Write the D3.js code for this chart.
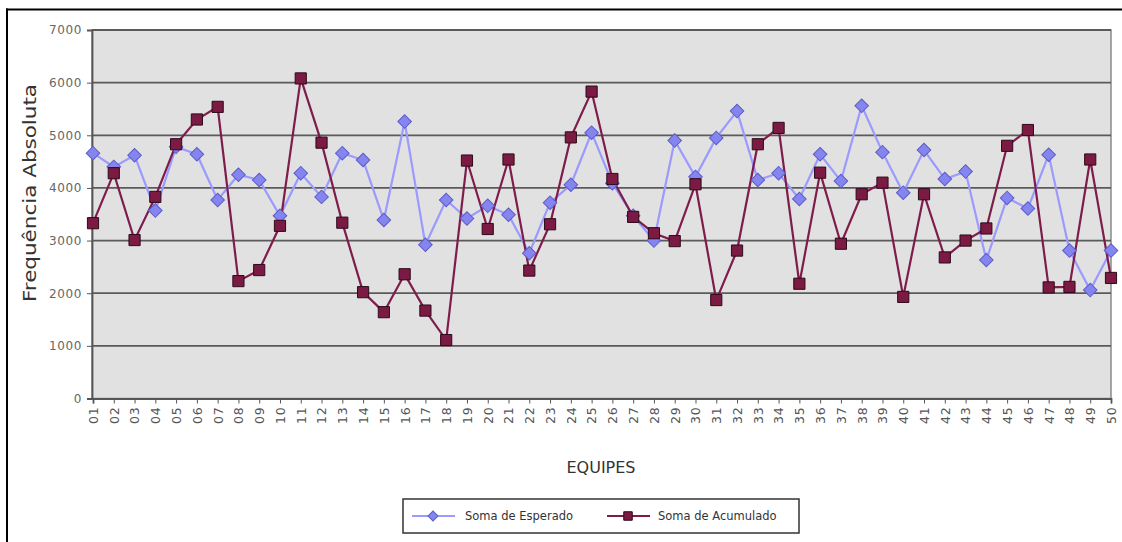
<!DOCTYPE html>
<html>
<head>
<meta charset="utf-8">
<script src="https://cdn.jsdelivr.net/npm/d3@7"></script>
<style>
 body{margin:0;background:#fff;}
 svg{display:block;font-family:"DejaVu Sans",sans-serif;}
</style>
</head>
<body>
<script>
// equipes 01..50
var equipes = ["01","02","03","04","05","06","07","08","09","10",
 "11","12","13","14","15","16","17","18","19","20",
 "21","22","23","24","25","26","27","28","29","30",
 "31","32","33","34","35","36","37","38","39","40",
 "41","42","43","44","45","46","47","48","49","50"];

var esperado = [4660,4400,4620,3570,4780,4640,3770,4250,4150,3470,
 4280,3830,4660,4530,3390,5260,2920,3770,3420,3660,
 3490,2760,3720,4060,5050,4090,3470,3000,4900,4210,
 4950,5460,4150,4280,3790,4640,4130,5560,4680,3910,
 4720,4170,4310,2630,3810,3610,4630,2810,2060,2810];

var acumulado = [3330,4280,3010,3830,4830,5300,5540,2230,2440,3280,
 6080,4860,3340,2020,1640,2360,1670,1110,4520,3220,
 4540,2430,3310,4960,5830,4170,3450,3140,2990,4070,
 1870,2810,4830,5140,2180,4290,2940,3880,4100,1930,
 3880,2680,3000,3230,4800,5100,2110,2120,4540,2290];

var yTicks = [0,1000,2000,3000,4000,5000,6000,7000];

var W = 1122, H = 542;
var pLeft = 92, pRight = 1111, pTop = 30, pBottom = 398.5;

var svg = d3.select("body").append("svg")
  .attr("width", W)
  .attr("height", H);

// moldura
svg.append("line").attr("x1",6).attr("x2",W).attr("y1",9.5).attr("y2",9.5)
  .attr("stroke","#000").attr("stroke-width",2);
svg.append("line").attr("x1",7).attr("x2",7).attr("y1",8.5).attr("y2",H)
  .attr("stroke","#000").attr("stroke-width",2);

var x = d3.scalePoint().domain(equipes).range([93, pRight]);
var y = d3.scaleLinear().domain([0,7000]).range([pBottom, pTop]);

// area do grafico
svg.append("rect")
  .attr("x", pLeft).attr("y", pTop)
  .attr("width", pRight-pLeft).attr("height", pBottom-pTop)
  .attr("fill","#e1e1e1")
  .attr("stroke","#8a8a8a").attr("stroke-width",1.5);

svg.selectAll(".grid").data(yTicks.filter(function(d){return d>0;}))
  .enter().append("line")
  .attr("x1", pLeft).attr("x2", pRight)
  .attr("y1", function(d){ return y(d); })
  .attr("y2", function(d){ return y(d); })
  .attr("stroke","#5a5a5a").attr("stroke-width",1.8);

// eixo y
var yAxis = svg.append("g")
  .attr("transform","translate("+pLeft+",0)")
  .call(d3.axisLeft(y).tickValues(yTicks).tickSize(5).tickPadding(5).tickFormat(d3.format("d")));
yAxis.select(".domain").attr("stroke","#555").attr("stroke-width",1.8);
yAxis.selectAll(".tick line").attr("stroke","#555");
yAxis.selectAll("text").attr("fill","#666").attr("font-size","12px")
  .attr("font-family","DejaVu Sans").attr("letter-spacing","0.6px");

// eixo x
var xAxis = svg.append("g")
  .attr("transform","translate(0,"+pBottom+")")
  .call(d3.axisBottom(x).tickSize(5));
xAxis.select(".domain").attr("stroke","#555").attr("stroke-width",1.8);
xAxis.selectAll(".tick line").attr("stroke","#555");
xAxis.selectAll("text")
  .attr("fill","#555").attr("font-size","12.5px")
  .attr("font-family","DejaVu Sans")
  .attr("letter-spacing","0.8px")
  .attr("text-anchor","end")
  .attr("dy","0.35em")
  .attr("transform","translate(0,8) rotate(-90)")
  .attr("x",0).attr("y",0);

// titulos
svg.append("text")
  .attr("transform","translate(36,193) rotate(-90)")
  .attr("text-anchor","middle")
  .attr("font-size","18px")
  .attr("fill","#333")
  .attr("textLength",218)
  .attr("lengthAdjust","spacingAndGlyphs")
  .text("Frequência Absoluta");

svg.append("text")
  .attr("x",601).attr("y",473)
  .attr("text-anchor","middle")
  .attr("font-size","16px")
  .attr("fill","#333")
  .text("EQUIPES");

// series
var line = d3.line()
  .x(function(d,i){ return x(equipes[i]); })
  .y(function(d){ return y(d); });

var blue = "#9a9aff", blueFill = "#8585f0", blueStroke = "#5c5cc8";
var red = "#7e1d4c", redFill = "#7b1a42", redStroke = "#2e0a1c";

svg.append("path").attr("d", line(esperado))
  .attr("fill","none").attr("stroke",blue).attr("stroke-width",2.2);
svg.append("path").attr("d", line(acumulado))
  .attr("fill","none").attr("stroke",red).attr("stroke-width",2.2);

svg.selectAll(".esp").data(esperado).enter().append("path")
  .attr("d", d3.symbol().type(d3.symbolSquare).size(92))
  .attr("transform", function(d,i){ return "translate("+x(equipes[i])+","+y(d)+") rotate(45)"; })
  .attr("fill",blueFill).attr("stroke",blueStroke).attr("stroke-width",1);

svg.selectAll(".acu").data(acumulado).enter().append("path")
  .attr("d", d3.symbol().type(d3.symbolSquare).size(125))
  .attr("transform", function(d,i){ return "translate("+x(equipes[i])+","+y(d)+")"; })
  .attr("fill",redFill).attr("stroke",redStroke).attr("stroke-width",1);

// legenda
var lg = svg.append("g");
lg.append("rect").attr("x",403).attr("y",499).attr("width",396).attr("height",34)
  .attr("fill","#fff").attr("stroke","#333").attr("stroke-width",1.5);

lg.append("line").attr("x1",412).attr("x2",455).attr("y1",516).attr("y2",516)
  .attr("stroke",blue).attr("stroke-width",2);
lg.append("path").attr("d", d3.symbol().type(d3.symbolSquare).size(50))
  .attr("transform","translate(433,516) rotate(45)")
  .attr("fill",blueFill).attr("stroke",blueStroke);
lg.append("text").attr("x",465).attr("y",520).attr("font-size","11.5px").attr("fill","#333")
  .text("Soma de Esperado");

lg.append("line").attr("x1",607).attr("x2",650).attr("y1",516).attr("y2",516)
  .attr("stroke",red).attr("stroke-width",2);
lg.append("path").attr("d", d3.symbol().type(d3.symbolSquare).size(72))
  .attr("transform","translate(628,516)")
  .attr("fill",redFill).attr("stroke",redStroke);
lg.append("text").attr("x",658).attr("y",520).attr("font-size","11.5px").attr("fill","#333")
  .text("Soma de Acumulado");
</script>
</body>
</html>
